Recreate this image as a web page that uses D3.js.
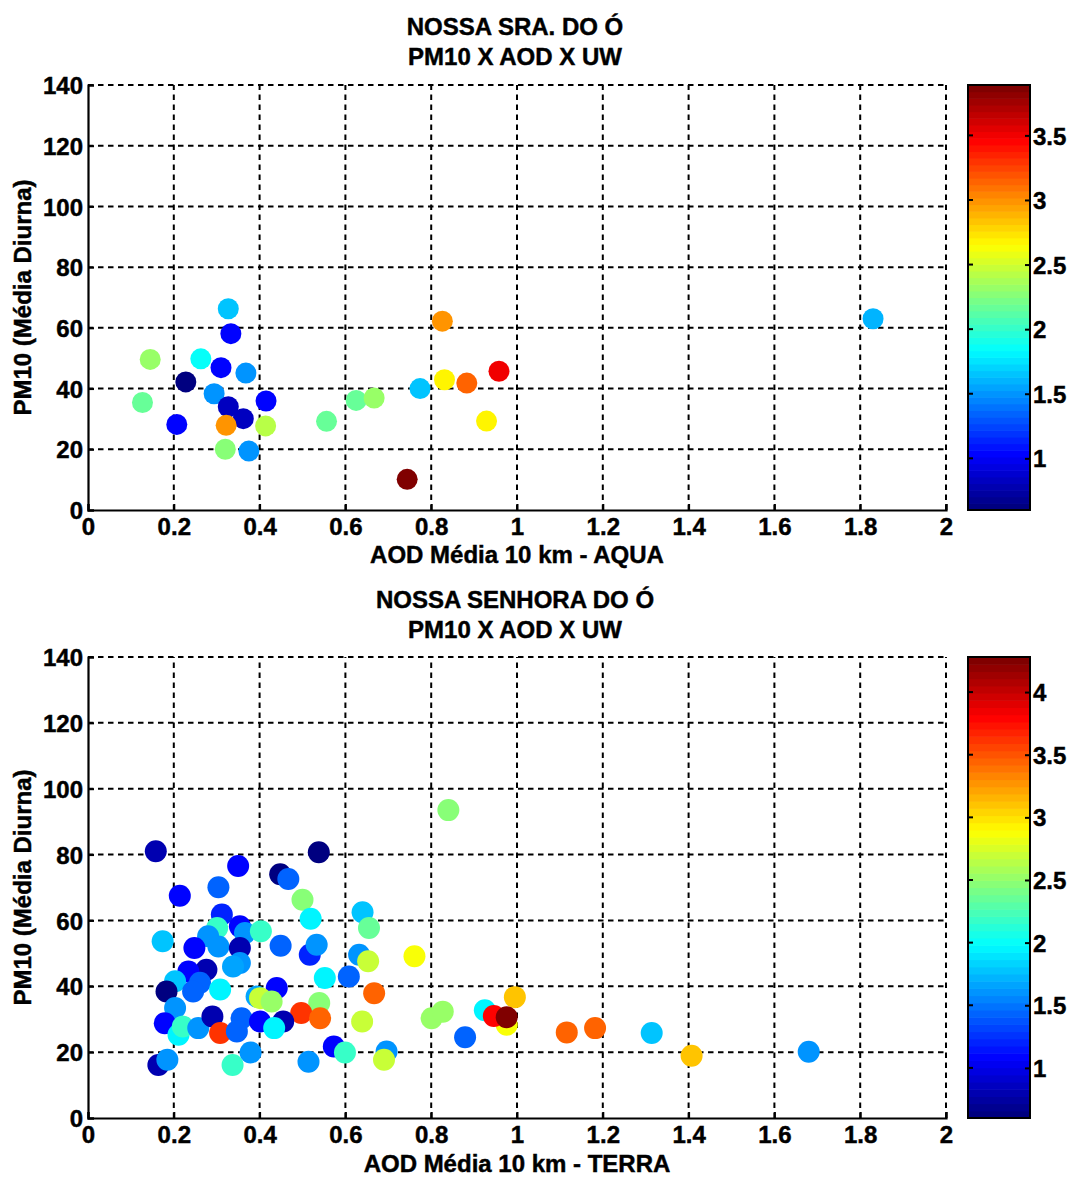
<!DOCTYPE html>
<html><head><meta charset="utf-8">
<script src="https://cdn.jsdelivr.net/npm/d3@7"></script>
<style>
body{margin:0;background:#fff}
svg text{font-family:"Liberation Sans",Arial,sans-serif;font-weight:bold;fill:#000;stroke:#000;stroke-width:0.45px}
</style>
</head><body>
<svg id="chart" width="1069" height="1177"></svg>
<script>
// ---------- data ----------
const xTickValues = [0, 0.2, 0.4, 0.6, 0.8, 1, 1.2, 1.4, 1.6, 1.8, 2];
const yTickValues = [0, 20, 40, 60, 80, 100, 120, 140];

const aquaTitle = ["NOSSA SRA. DO Ó", "PM10 X AOD X UW"];
const aquaXLabel = "AOD Média 10 km - AQUA";
const terraTitle = ["NOSSA SENHORA DO Ó", "PM10 X AOD X UW"];
const terraXLabel = "AOD Média 10 km - TERRA";
const yLabel = "PM10 (Média Diurna)";

const aquaAOD  = [0.327,0.333,0.145,0.263,0.310,0.368,0.228,0.294,0.127,0.327,0.415,0.362,0.207,0.322,0.414,0.320,0.375,0.556,0.625,0.667,0.774,0.831,0.883,0.958,0.929,0.826,0.744,1.830];
const aquaPM10 = [66.3,58.1,49.6,49.8,46.9,45.1,42.2,38.3,35.4,34.0,35.9,30.1,28.2,27.9,27.7,20.0,19.4,29.2,36.1,36.9,40.0,42.9,41.8,45.7,29.3,62.2,10.1,63.0];
const aquaUW   = [1.66,1.02,2.33,1.84,1.02,1.50,0.65,1.50,2.17,0.85,1.02,0.85,1.02,2.99,2.40,2.25,1.50,2.17,2.17,2.33,1.66,2.66,3.15,3.48,2.66,2.99,3.89,1.62];
const aquaUWRange = [0.60, 3.89];
const aquaCbarTicks = [1, 1.5, 2, 2.5, 3, 3.5];

const terraAOD  = [0.158,0.538,0.350,0.448,0.467,0.304,0.214,0.500,0.519,0.312,0.354,0.301,0.366,0.403,0.174,0.280,0.248,0.304,0.354,0.354,0.338,0.449,0.517,0.533,0.276,0.234,0.261,0.203,0.440,0.308,0.183,0.245,0.203,0.393,0.401,0.428,0.552,0.608,0.640,0.655,0.632,0.653,0.761,0.667,0.539,0.497,0.541,0.639,0.179,0.211,0.221,0.257,0.290,0.308,0.358,0.347,0.401,0.455,0.434,0.164,0.185,0.337,0.379,0.514,0.573,0.599,0.696,0.690,0.840,0.801,0.827,0.879,0.925,0.976,0.946,0.995,0.976,1.116,1.182,1.314,1.407,1.680];
const terraPM10 = [81.0,80.7,76.5,74.0,72.6,70.1,67.5,66.3,60.5,61.8,58.2,57.7,56.2,56.7,53.7,55.2,51.6,52.1,51.6,47.1,46.0,52.3,49.6,52.6,45.0,44.5,41.1,41.5,39.5,39.0,38.4,38.4,33.4,36.9,36.4,35.4,42.5,43.0,62.5,57.7,49.6,47.6,49.1,37.9,34.9,31.9,30.3,29.3,28.8,25.3,27.8,27.3,30.8,25.8,30.3,26.3,29.3,29.3,27.3,16.1,17.7,16.1,19.9,17.1,21.7,19.9,20.2,17.7,93.5,30.3,32.3,24.5,32.7,28.3,31.0,36.7,30.6,26.0,27.3,25.8,18.9,20.1];
const terraUW   = [0.82,0.65,1.06,0.65,1.43,1.43,1.06,2.45,1.98,1.20,1.06,2.16,1.59,2.16,1.79,1.59,1.06,1.59,0.82,1.59,1.66,1.43,1.20,1.59,0.82,1.06,1.43,1.79,1.06,1.98,0.65,1.43,1.59,1.66,2.71,2.53,1.98,1.43,1.79,2.34,1.59,2.71,2.89,3.44,2.45,3.63,3.44,2.71,1.06,1.98,2.16,1.59,0.82,3.63,1.43,1.43,1.06,0.82,1.98,0.82,1.59,2.16,1.59,1.59,1.06,2.16,1.59,2.71,2.45,2.53,2.53,1.43,1.98,2.89,3.81,3.10,4.25,3.44,3.44,1.79,3.10,1.59];
const terraUWRange = [0.60, 4.28];
const terraCbarTicks = [1, 1.5, 2, 2.5, 3, 3.5, 4];

// ---------- helpers ----------
function jet(t){
  const c = v => Math.max(0, Math.min(1, v));
  const r = c(1.5 - Math.abs(4*t - 3)), g = c(1.5 - Math.abs(4*t - 2)), b = c(1.5 - Math.abs(4*t - 1));
  return d3.rgb(r*255, g*255, b*255).formatHex();
}
const NCOL = 64;
function colorScale(range){
  const s = d3.scaleLinear().domain(range).range([0, 1]).clamp(true);
  return v => { const i = Math.min(NCOL-1, Math.floor(s(v)*NCOL)); return jet(i/(NCOL-1)); };
}

const svg = d3.select("#chart");
const FS = 24;

function panel(cfg){
  const {top, bottom, left, right} = cfg;
  const g = svg.append("g");
  const x = d3.scaleLinear().domain([0, 2]).range([left, right]);
  const y = d3.scaleLinear().domain([0, 140]).range([bottom, top]);

  // grid
  g.selectAll(".vg").data(xTickValues.filter(d => d > 0)).join("line")
    .attr("x1", d => x(d)).attr("x2", d => x(d)).attr("y1", bottom).attr("y2", top)
    .attr("stroke", "#000").attr("stroke-width", 2).attr("stroke-dasharray", "5.5,4.5");
  g.selectAll(".hg").data(yTickValues.filter(d => d > 0)).join("line")
    .attr("y1", d => y(d)).attr("y2", d => y(d)).attr("x1", left).attr("x2", right)
    .attr("stroke", "#000").attr("stroke-width", 2).attr("stroke-dasharray", "5.5,4.5");

  // points
  const col = colorScale(cfg.range);
  const pts = cfg.xs.map((v, i) => ({x: v, y: cfg.ys[i], c: cfg.cs[i]}));
  g.selectAll(".pt").data(pts).join("circle")
    .attr("cx", d => x(d.x)).attr("cy", d => y(d.y)).attr("r", cfg.r)
    .attr("fill", d => col(d.c));

  // axes
  const xa = g.append("g").attr("transform", `translate(0,${bottom})`)
    .call(d3.axisBottom(x).tickValues(xTickValues).tickSize(-6).tickPadding(14).tickFormat(d3.format("~g")));
  const ya = g.append("g").attr("transform", `translate(${left},0)`)
    .call(d3.axisLeft(y).tickValues(yTickValues).tickSize(-6).tickPadding(5).tickFormat(d3.format("d")));
  [xa, ya].forEach(a => {
    a.select(".domain").attr("stroke", "#000").attr("stroke-width", 2.2);
    a.selectAll(".tick line").attr("stroke", "#000").attr("stroke-width", 2);
    a.selectAll("text").style("font-size", FS + "px").attr("fill", "#000");
  });
  xa.selectAll(".tick text").attr("dy", "0.45em");
  ya.selectAll(".tick text").attr("dy", "0.36em");

  // titles
  cfg.title.forEach((t, i) => g.append("text").attr("x", (left+right)/2 - 2).attr("y", cfg.titleY + i*30)
    .attr("text-anchor", "middle").style("font-size", FS + "px").text(t));
  g.append("text").attr("x", (left+right)/2).attr("y", cfg.xLabelY)
    .attr("text-anchor", "middle").style("font-size", FS + "px").text(cfg.xLabel);
  g.append("text").attr("transform", `translate(31,${(top+bottom)/2}) rotate(-90)`)
    .attr("text-anchor", "middle").style("font-size", FS + "px").text(yLabel);

  // colorbar
  const cx0 = 968, cx1 = 1030;
  const cy = d3.scaleLinear().domain(cfg.range).range([bottom, top]);
  const bands = d3.range(NCOL);
  const bh = (bottom - top) / NCOL;
  g.selectAll(".band").data(bands).join("rect")
    .attr("x", cx0).attr("width", cx1 - cx0)
    .attr("y", i => bottom - (i+1)*bh).attr("height", bh + 0.6)
    .attr("fill", i => jet(i/(NCOL-1)));
  g.append("rect").attr("x", cx0).attr("y", top).attr("width", cx1-cx0).attr("height", bottom-top)
    .attr("fill", "none").attr("stroke", "#000").attr("stroke-width", 2);
  const ca = g.append("g").attr("transform", `translate(${cx1},0)`)
    .call(d3.axisRight(cy).tickValues(cfg.cbarTicks).tickSize(-5).tickPadding(3).tickFormat(d3.format("~g")));
  ca.select(".domain").remove();
  ca.selectAll(".tick line").attr("stroke", "#000").attr("stroke-width", 2);
  ca.selectAll("text").style("font-size", FS + "px").attr("fill", "#000").attr("dy", "0.36em");
  g.selectAll(".ltick").data(cfg.cbarTicks).join("line")
    .attr("x1", cx0).attr("x2", cx0 + 5).attr("y1", d => cy(d)).attr("y2", d => cy(d))
    .attr("stroke", "#000").attr("stroke-width", 2);
}

panel({top: 85, bottom: 510, left: 88, right: 946, xs: aquaAOD, ys: aquaPM10, cs: aquaUW,
  range: aquaUWRange, cbarTicks: aquaCbarTicks, title: aquaTitle, titleY: 35, xLabel: aquaXLabel, xLabelY: 563, r: 10.5});
panel({top: 657, bottom: 1118, left: 88, right: 946, xs: terraAOD, ys: terraPM10, cs: terraUW,
  range: terraUWRange, cbarTicks: terraCbarTicks, title: terraTitle, titleY: 608, xLabel: terraXLabel, xLabelY: 1172, r: 11});
</script>
</body></html>
